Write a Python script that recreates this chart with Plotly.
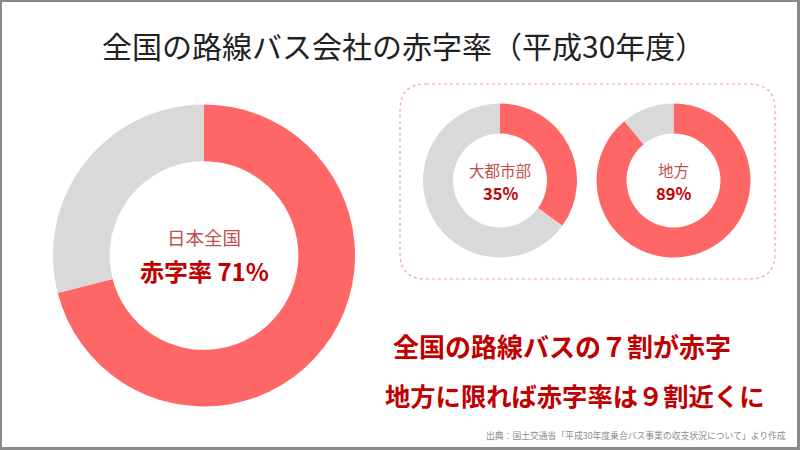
import plotly.graph_objects as go

W, H = 800, 450

# Data
labels = ["赤字", "黒字"]
national = [71, 29]
urban = [35, 65]
rural = [89, 11]
donut_titles = ["日本全国", "大都市部", "地方"]
donut_values_text = ["赤字率 71%", "35%", "89%"]
title_text = "全国の路線バス会社の赤字率（平成30年度）"
msg1 = "全国の路線バスの７割が赤字"
msg2 = "地方に限れば赤字率は９割近くに"
source = "出典：国土交通省「平成30年度乗合バス事業の収支状況について」より作成"

RED = "#FF6666"
GRAY = "#D9D9D9"
DARKRED = "#C00000"
LIGHTRED = "#C0504D"
FONT = "Noto Sans CJK JP"


def px(x):
    return x / W


def py(y):
    return 1 - y / H


def dom(cx, cy, r):
    return dict(x=[px(cx - r), px(cx + r)], y=[py(cy + r), py(cy - r)])


fig = go.Figure()
for vals, (cx, cy, r), hole in [
    (national, (204, 255.5, 151), 0.625),
    (urban, (500, 180.5, 77), 0.61),
    (rural, (673.5, 180.5, 77), 0.61),
]:
    fig.add_trace(go.Pie(
        labels=labels, values=vals, hole=hole, sort=False,
        direction="clockwise", rotation=0,
        marker=dict(colors=[RED, GRAY], line=dict(width=0)),
        textinfo="none", hoverinfo="skip", showlegend=False,
        domain=dom(cx, cy, r),
    ))

ann = []


def add_text(text, x, y, size, color, bold=False, xanchor="center", family=FONT):
    t = f"<b>{text}</b>" if bold else text
    ann.append(dict(text=t, x=px(x), y=py(y), xref="paper", yref="paper",
                    xanchor=xanchor, yanchor="middle", showarrow=False,
                    font=dict(family=family, size=size, color=color)))


add_text(title_text, 100, 45, 30, "#222222", xanchor="left")
add_text(donut_titles[0], 204, 237, 18.5, LIGHTRED)
add_text(donut_values_text[0], 204, 270, 24, DARKRED, bold=True)
add_text(donut_titles[1], 500, 170, 15.5, LIGHTRED)
add_text(donut_values_text[1], 500, 193, 16.5, DARKRED, bold=True)
add_text(donut_titles[2], 673.5, 170, 15.5, LIGHTRED)
add_text(donut_values_text[2], 673.5, 193, 16.5, DARKRED, bold=True)
add_text(msg1, 561.5, 345, 26, DARKRED, bold=True)
add_text(msg2, 574, 395, 25.3, DARKRED, bold=True)
add_text(source, 788, 435, 8.8, "#8c8c8c", xanchor="right")

# dotted rounded rectangle
x0, x1, y0, y1, rr = 400, 775, 84, 279, 26
path = (
    f"M {px(x0+rr)},{py(y0)} L {px(x1-rr)},{py(y0)} "
    f"Q {px(x1)},{py(y0)} {px(x1)},{py(y0+rr)} "
    f"L {px(x1)},{py(y1-rr)} Q {px(x1)},{py(y1)} {px(x1-rr)},{py(y1)} "
    f"L {px(x0+rr)},{py(y1)} Q {px(x0)},{py(y1)} {px(x0)},{py(y1-rr)} "
    f"L {px(x0)},{py(y0+rr)} Q {px(x0)},{py(y0)} {px(x0+rr)},{py(y0)} Z"
)
shapes = [
    dict(type="path", path=path, xref="paper", yref="paper",
         line=dict(color="#F4A0A0", width=1.2, dash="dot")),
    dict(type="rect", xref="paper", yref="paper",
         x0=px(1), x1=px(798), y0=py(448), y1=py(1),
         line=dict(color="#8a8a8a", width=2)),
    dict(type="line", xref="paper", yref="paper",
         x0=px(799.5), x1=px(799.5), y0=0, y1=1,
         line=dict(color="#8a8a8a", width=2)),
    dict(type="line", xref="paper", yref="paper",
         x0=0, x1=1, y0=py(449.5), y1=py(449.5),
         line=dict(color="#8a8a8a", width=2)),
]

fig.update_layout(
    width=W, height=H, margin=dict(l=0, r=0, t=0, b=0),
    paper_bgcolor="white", plot_bgcolor="white",
    annotations=ann, shapes=shapes,
)
fig.write_html("out.html")
